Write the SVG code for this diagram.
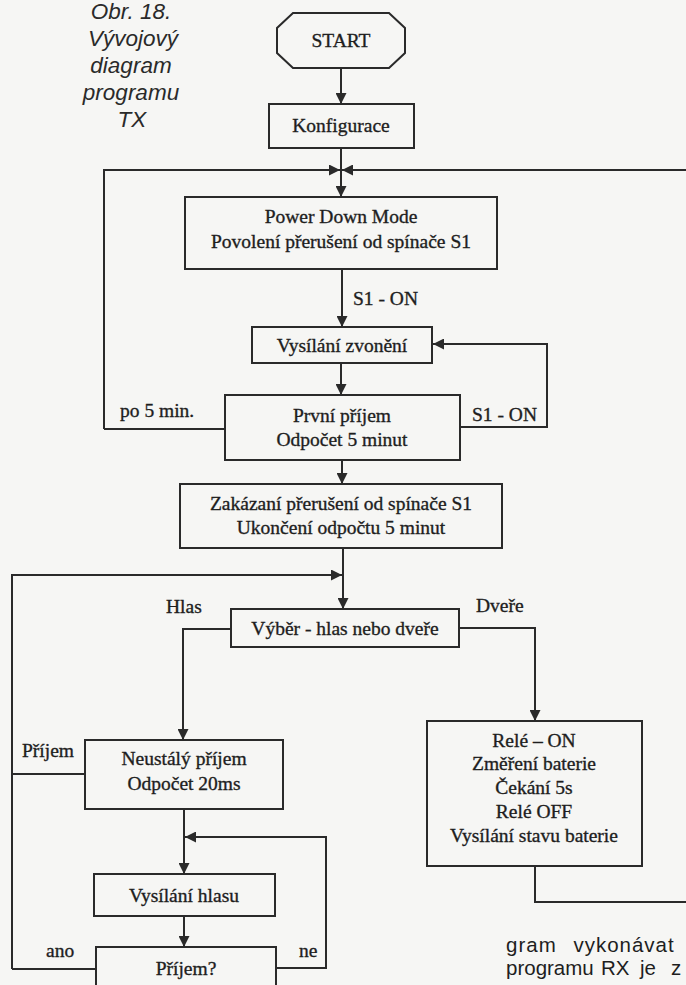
<svg xmlns="http://www.w3.org/2000/svg" width="686" height="985" viewBox="0 0 686 985">
<style>
.bg{fill:#f6f6f4}
.box{fill:none;stroke:#2a2a2a;stroke-width:2}
.ln{fill:none;stroke:#2a2a2a;stroke-width:2}
.t{font-family:"Liberation Serif","Times New Roman",serif;font-size:19.5px;fill:#1e1e1e;stroke:#1e1e1e;stroke-width:0.35;text-anchor:middle}
.l{font-family:"Liberation Serif","Times New Roman",serif;font-size:19.5px;fill:#1e1e1e;stroke:#1e1e1e;stroke-width:0.35}
.cap{font-family:"Liberation Sans",Arial,sans-serif;font-size:22.5px;font-style:italic;fill:#2a2a2a;text-anchor:middle}
.body{font-family:"Liberation Sans",Arial,sans-serif;font-size:20.5px;fill:#1e1e1e}
</style>
<defs>
<marker id="ah" viewBox="0 0 10 10" refX="10" refY="5" markerWidth="11" markerHeight="11" markerUnits="userSpaceOnUse" orient="auto">
<path d="M0,0 L10,5 L0,10 z" fill="#2a2a2a"/>
</marker>
</defs>
<rect class="bg" x="0" y="0" width="686" height="985"/>
<g id="caption">
<text class="cap" x="131" y="19">Obr. 18.</text>
<text class="cap" x="133" y="46">Vývojový</text>
<text class="cap" x="131" y="73">diagram</text>
<text class="cap" x="131" y="100">programu</text>
<text class="cap" x="132" y="127">TX</text>
</g>
<g id="connectors">
<path class="ln" d="M341,68 V104" marker-end="url(#ah)"/>
<path class="ln" d="M341,148 V197" marker-end="url(#ah)"/>
<path class="ln" d="M104,429 V170 H340" marker-end="url(#ah)"/>
<path class="ln" d="M686,170 H342" marker-end="url(#ah)"/>
<path class="ln" d="M225,429 H104"/>
<path class="ln" d="M342,269 V327" marker-end="url(#ah)"/>
<path class="ln" d="M341,363 V395" marker-end="url(#ah)"/>
<path class="ln" d="M460,427 H547 V344 H433" marker-end="url(#ah)"/>
<path class="ln" d="M342,460 V484" marker-end="url(#ah)"/>
<path class="ln" d="M343,548 V609" marker-end="url(#ah)"/>
<path class="ln" d="M12,969 V575 H342" marker-end="url(#ah)"/>
<path class="ln" d="M85,774 H12"/>
<path class="ln" d="M96,969 H12"/>
<path class="ln" d="M231,629 H183 V740" marker-end="url(#ah)"/>
<path class="ln" d="M459,628 H535 V721" marker-end="url(#ah)"/>
<path class="ln" d="M535,866 V902 H686"/>
<path class="ln" d="M184,809 V874" marker-end="url(#ah)"/>
<path class="ln" d="M276,968 H326 V837 H185" marker-end="url(#ah)"/>
<path class="ln" d="M184,916 V947" marker-end="url(#ah)"/>
</g>
<g id="labels">
<text class="l" x="353" y="305">S1 - ON</text>
<text class="l" x="472" y="421">S1 - ON</text>
<text class="l" x="120" y="417">po 5 min.</text>
<text class="l" x="166" y="613">Hlas</text>
<text class="l" x="476" y="612">Dveře</text>
<text class="l" x="22" y="757">Příjem</text>
<text class="l" x="46" y="957">ano</text>
<text class="l" x="299" y="957">ne</text>
</g>
<g id="start">
<polygon class="box" points="293,13 389,13 405,28 405,53 389,68 293,68 277,53 277,28"/>
<text class="t" x="341" y="47">START</text>
</g>
<g id="konfigurace">
<rect class="box" x="269" y="104" width="145" height="44"/>
<text class="t" x="341" y="132">Konfigurace</text>
</g>
<g id="powerdown">
<rect class="box" x="185" y="197" width="312" height="72"/>
<text class="t" x="341" y="223">Power Down Mode</text>
<text class="t" x="341" y="248">Povolení přerušení od spínače S1</text>
</g>
<g id="vysilani-zvoneni">
<rect class="box" x="252" y="327" width="180" height="36"/>
<text class="t" x="342" y="352">Vysílání zvonění</text>
</g>
<g id="prvni-prijem">
<rect class="box" x="225" y="395" width="235" height="65"/>
<text class="t" x="342" y="422">První příjem</text>
<text class="t" x="342" y="446">Odpočet 5 minut</text>
</g>
<g id="zakazani">
<rect class="box" x="180" y="484" width="322" height="64"/>
<text class="t" x="341" y="510">Zakázaní přerušení od spínače S1</text>
<text class="t" x="341" y="534">Ukončení odpočtu 5 minut</text>
</g>
<g id="vyber">
<rect class="box" x="231" y="609" width="228" height="38"/>
<text class="t" x="345" y="635">Výběr - hlas nebo dveře</text>
</g>
<g id="neustaly">
<rect class="box" x="85" y="740" width="198" height="69"/>
<text class="t" x="184" y="765">Neustálý příjem</text>
<text class="t" x="184" y="790">Odpočet 20ms</text>
</g>
<g id="rele">
<rect class="box" x="427" y="721" width="215" height="145"/>
<text class="t" x="534" y="747">Relé – ON</text>
<text class="t" x="534" y="770">Změření baterie</text>
<text class="t" x="534" y="794">Čekání 5s</text>
<text class="t" x="534" y="818">Relé OFF</text>
<text class="t" x="534" y="842">Vysílání stavu baterie</text>
</g>
<g id="vysilani-hlasu">
<rect class="box" x="94" y="874" width="181" height="42"/>
<text class="t" x="184" y="902">Vysílání hlasu</text>
</g>
<g id="prijem">
<rect class="box" x="96" y="947" width="180" height="50"/>
<text class="t" x="186" y="975">Příjem?</text>
</g>
<g id="bodytext">
<text class="body" x="506" y="952" letter-spacing="1" word-spacing="10">gram vykonávat</text>
<text class="body" x="506" y="975">programu <tspan x="601">RX</tspan> <tspan x="640">je</tspan> <tspan x="671">z</tspan></text>
</g>
</svg>
